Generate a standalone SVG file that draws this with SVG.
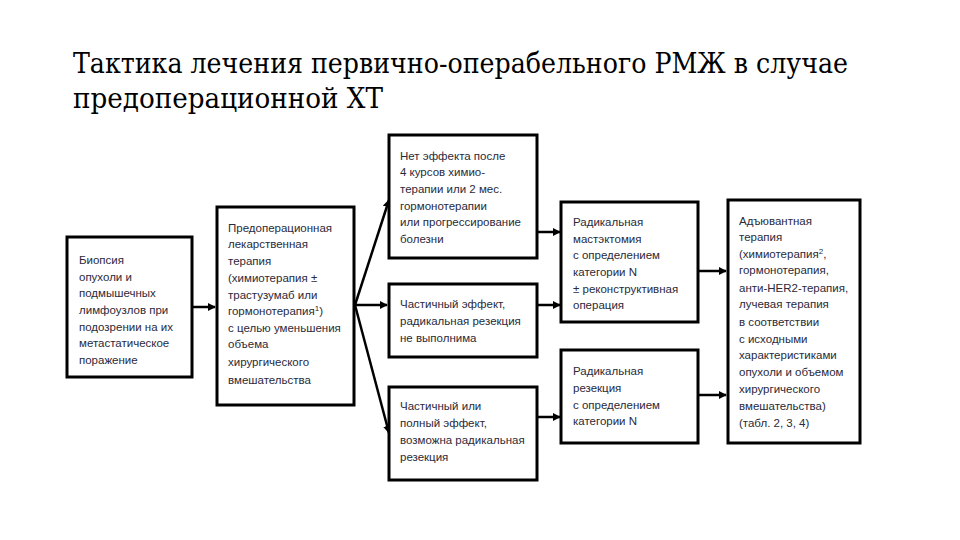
<svg xmlns="http://www.w3.org/2000/svg" width="960" height="540" viewBox="0 0 960 540">
<style>
.hd{font-family:"DejaVu Serif","Liberation Serif",serif;font-size:27px;fill:#000}
.box{fill:#fff;stroke:#000;stroke-width:3}
.t{font-family:"Liberation Sans",Arial,sans-serif;font-size:11.5px;fill:#2a2a3a}
.c{stroke:#000;stroke-width:2.5;fill:none}
</style>
<defs>
<marker id="ah" viewBox="0 0 10 10" refX="9" refY="5" markerWidth="3.2" markerHeight="3.2" orient="auto" markerUnits="strokeWidth">
<path d="M0,0 L10,5 L0,10 z" fill="#000"/>
</marker>
</defs>
<rect width="960" height="540" fill="#fff"/>
<g id="heading">
<text class="hd" x="73" y="73" textLength="775" lengthAdjust="spacingAndGlyphs">Тактика лечения первично-операбельного РМЖ в случае</text>
<text class="hd" x="73" y="108" textLength="310" lengthAdjust="spacingAndGlyphs">предоперационной ХТ</text>
</g>
<g id="connectors">
<line class="c" x1="192" y1="307" x2="215" y2="307" marker-end="url(#ah)"/>
<line class="c" x1="355" y1="305" x2="389" y2="200" marker-end="url(#ah)"/>
<line class="c" x1="355" y1="305" x2="387" y2="305" marker-end="url(#ah)"/>
<line class="c" x1="355" y1="305" x2="389" y2="433" marker-end="url(#ah)"/>
<line class="c" x1="537" y1="232" x2="560" y2="232" marker-end="url(#ah)"/>
<line class="c" x1="537" y1="305" x2="560" y2="305" marker-end="url(#ah)"/>
<line class="c" x1="537" y1="417" x2="560" y2="417" marker-end="url(#ah)"/>
<line class="c" x1="698" y1="271" x2="726" y2="271" marker-end="url(#ah)"/>
<line class="c" x1="698" y1="395" x2="726" y2="395" marker-end="url(#ah)"/>
</g>
<g id="n1">
<rect class="box" x="67" y="237" width="125" height="140"/>
<text class="t" x="79" y="264">Биопсия</text>
<text class="t" x="79" y="281">опухоли и</text>
<text class="t" x="79" y="297">подмышечных</text>
<text class="t" x="79" y="314">лимфоузлов при</text>
<text class="t" x="79" y="331">подозрении на их</text>
<text class="t" x="79" y="347">метастатическое</text>
<text class="t" x="79" y="364">поражение</text>
</g>
<g id="n2">
<rect class="box" x="217" y="207" width="137" height="198"/>
<text class="t" x="228" y="232">Предоперационная</text>
<text class="t" x="228" y="248">лекарственная</text>
<text class="t" x="228" y="265">терапия</text>
<text class="t" x="228" y="282">(химиотерапия ±</text>
<text class="t" x="228" y="299">трастузумаб или</text>
<text class="t" x="228" y="315">гормонотерапия<tspan font-size="8" dy="-4">1</tspan><tspan dy="4">)</tspan></text>
<text class="t" x="228" y="332">с целью уменьшения</text>
<text class="t" x="228" y="348">объема</text>
<text class="t" x="228" y="366">хирургического</text>
<text class="t" x="228" y="384">вмешательства</text>
</g>
<g id="n3">
<rect class="box" x="389" y="135" width="148" height="123"/>
<text class="t" x="400" y="160">Нет эффекта после</text>
<text class="t" x="400" y="176">4 курсов химио-</text>
<text class="t" x="400" y="193">терапии или 2 мес.</text>
<text class="t" x="400" y="210">гормонотерапии</text>
<text class="t" x="400" y="226">или прогрессирование</text>
<text class="t" x="400" y="243">болезни</text>
</g>
<g id="n4">
<rect class="box" x="389" y="284" width="148" height="73"/>
<text class="t" x="400" y="308">Частичный эффект,</text>
<text class="t" x="400" y="325">радикальная резекция</text>
<text class="t" x="400" y="342">не выполнима</text>
</g>
<g id="n5">
<rect class="box" x="389" y="387" width="148" height="93"/>
<text class="t" x="400" y="410">Частичный или</text>
<text class="t" x="400" y="427">полный эффект,</text>
<text class="t" x="400" y="444">возможна радикальная</text>
<text class="t" x="400" y="461">резекция</text>
</g>
<g id="n6">
<rect class="box" x="561" y="202" width="137" height="120"/>
<text class="t" x="573" y="226">Радикальная</text>
<text class="t" x="573" y="243">мастэктомия</text>
<text class="t" x="573" y="259">с определением</text>
<text class="t" x="573" y="276">категории N</text>
<text class="t" x="573" y="293">± реконструктивная</text>
<text class="t" x="573" y="309">операция</text>
</g>
<g id="n7">
<rect class="box" x="561" y="350" width="137" height="93"/>
<text class="t" x="573" y="375">Радикальная</text>
<text class="t" x="573" y="392">резекция</text>
<text class="t" x="573" y="409">с определением</text>
<text class="t" x="573" y="425">категории N</text>
</g>
<g id="n8">
<rect class="box" x="728" y="200" width="132" height="243"/>
<text class="t" x="739" y="225">Адъювантная</text>
<text class="t" x="739" y="241">терапия</text>
<text class="t" x="739" y="258">(химиотерапия<tspan font-size="8" dy="-4">2</tspan><tspan dy="4">,</tspan></text>
<text class="t" x="739" y="274">гормонотерапия,</text>
<text class="t" x="739" y="292">анти-HER2-терапия,</text>
<text class="t" x="739" y="308">лучевая терапия</text>
<text class="t" x="739" y="326">в соответствии</text>
<text class="t" x="739" y="343">с исходными</text>
<text class="t" x="739" y="359">характеристиками</text>
<text class="t" x="739" y="376">опухоли и объемом</text>
<text class="t" x="739" y="393">хирургического</text>
<text class="t" x="739" y="410">вмешательства)</text>
<text class="t" x="739" y="427">(табл. 2, 3, 4)</text>
</g>
</svg>
